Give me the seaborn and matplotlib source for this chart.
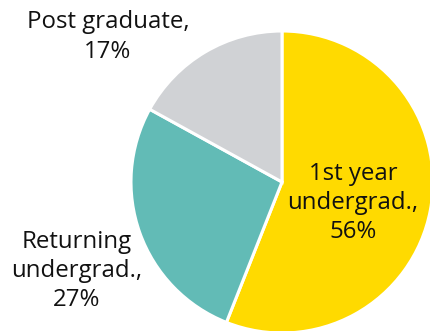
import matplotlib
matplotlib.use("Agg")
import matplotlib.pyplot as plt
import seaborn as sns

# Student population by enrolment type
categories = ["1st year\nundergrad.", "Returning\nundergrad.", "Post graduate"]
shares = [56, 27, 17]
colors = ["#FFDA00", "#62BBB6", "#D0D2D5"]

sns.set_theme(style="white")
plt.rcParams["font.family"] = ["Open Sans", "DejaVu Sans"]

fig = plt.figure(figsize=(4.31, 3.31), dpi=100)
ax = fig.add_axes([0, 0, 1, 1])

ax.pie(
    shares,
    colors=colors,
    startangle=90,
    counterclock=False,
    radius=1.0,
    wedgeprops=dict(edgecolor="white", linewidth=2.2),
)

# pie centre sits right of middle; the circle runs off the right and bottom edges
scale = 151.0
cx, cy = 282.0, 182.0
W, H = 431.0, 331.0
ax.set_xlim(-cx / scale, (W - cx) / scale)
ax.set_ylim(-(H - cy) / scale, cy / scale)
ax.set_aspect("equal")
ax.axis("off")

def px(x, y):
    return (x - cx) / scale, (cy - y) / scale

label_pos = {
    "1st year\nundergrad.": px(353, 203),
    "Returning\nundergrad.": px(77, 271),
    "Post graduate": px(108, 37),
}

for cat, val in zip(categories, shares):
    x, y = label_pos[cat]
    ax.text(x, y, f"{cat},\n{val}%", ha="center", va="center",
            fontsize=17.3, color="#111111", linespacing=1.28)

fig.savefig("out.png", dpi=100)
